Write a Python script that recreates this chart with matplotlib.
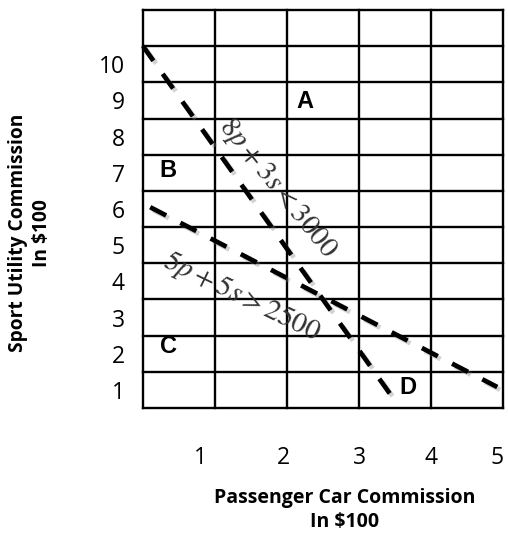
import matplotlib
matplotlib.use("Agg")
import matplotlib.pyplot as plt
import matplotlib.patheffects as pe

# grid: 5 columns (passenger car), 11 rows (sport utility)
n_cols = 5
n_rows = 11

# axis tick labels
x_ticks = [0.8, 1.95, 3.0, 4.0, 4.92]
x_labels = ["1", "2", "3", "4", "5"]
y_ticks = [0.5, 1.5, 2.5, 3.5, 4.5, 5.5, 6.5, 7.5, 8.5, 9.5]
y_labels = ["1", "2", "3", "4", "5", "6", "7", "8", "9", "10"]

# constraint lines (endpoints)
line1_x = [0.0, 3.47]
line1_y = [10.0, 0.28]
line2_x = [0.1, 4.92]
line2_y = [5.55, 0.58]

# region letters
regions = ["A", "B", "C", "D"]
region_x = [2.25, 0.35, 0.35, 3.68]
region_y = [8.48, 6.57, 1.69, 0.58]

plt.rcParams["mathtext.fontset"] = "stix"

fig = plt.figure(figsize=(5.08, 5.36), dpi=100)
ax = fig.add_axes([143 / 508, 128 / 536, 360 / 508, 398 / 536])
ax.set_xlim(0, n_cols)
ax.set_ylim(0, n_rows)

# grid lines
for i in range(n_cols + 1):
    ax.axvline(i, color="black", lw=1.7, clip_on=False)
for j in range(n_rows + 1):
    ax.axhline(j, color="black", lw=1.7, clip_on=False)
for s in ax.spines.values():
    s.set_visible(False)

ax.set_xticks(x_ticks)
ax.set_xticklabels(x_labels)
ax.set_yticks(y_ticks)
ax.set_yticklabels(y_labels)
ax.tick_params(axis="x", length=0, pad=27, labelsize=16.5)
ax.tick_params(axis="y", length=0, pad=13, labelsize=16.5)
for lab in ax.get_xticklabels() + ax.get_yticklabels():
    lab.set_fontfamily("Open Sans")

shadow = [pe.SimpleLineShadow(offset=(2, -2), shadow_color="gray", alpha=0.35),
          pe.Normal()]
for xs, ys in [(line1_x, line1_y), (line2_x, line2_y)]:
    ax.plot(xs, ys, color="black", lw=3.4, linestyle=(0, (3.8, 3.4)),
            solid_capstyle="butt", dash_capstyle="butt", clip_on=False,
            path_effects=shadow, zorder=5)

for name, x, y in zip(regions, region_x, region_y):
    ax.text(x, y, name, fontsize=17, fontweight="bold", fontfamily="Liberation Sans",
            ha="center", va="center", zorder=6)

ax.text(1.86, 6.08, r"$8p+3s<3000$", fontsize=21, rotation=-51,
        ha="center", va="center", color="#333333", zorder=6)
ax.text(1.375, 3.07, r"$5p+5s>2500$", fontsize=21, rotation=-26,
        ha="center", va="center", color="#333333", zorder=6)

fig.text(345 / 508, 1 - 510 / 536, "Passenger Car Commission\nIn $100",
         ha="center", va="center", fontsize=14, fontweight="bold",
         fontfamily="Open Sans", linespacing=1.2)
fig.text(30 / 508, 1 - 233 / 536, "Sport Utility Commission\nIn $100",
         ha="center", va="center", fontsize=13.8, fontweight="bold",
         fontfamily="Open Sans", rotation=90, linespacing=1.2)

fig.savefig("out.png", dpi=100)
